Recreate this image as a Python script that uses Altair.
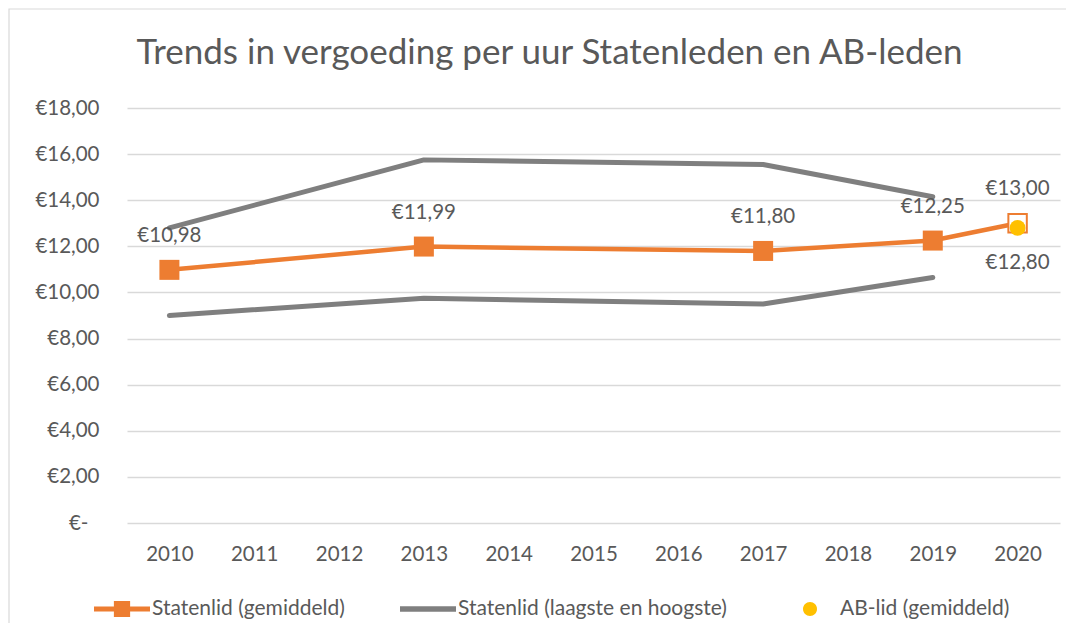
import altair as alt
import pandas as pd

# ---- data ----
years_all = ["2010", "2011", "2012", "2013", "2014", "2015", "2016", "2017", "2018", "2019", "2020"]

avg_years = ["2010", "2013", "2017", "2019", "2020"]
avg_values = [10.98, 11.99, 11.80, 12.25, 13.00]

range_years = ["2010", "2013", "2017", "2019"]
low_values = [9.00, 9.75, 9.50, 10.65]
high_values = [12.80, 15.75, 15.55, 14.15]

ab_years = ["2020"]
ab_values = [12.80]

series_names = ["Statenlid (gemiddeld)", "Statenlid (laagste en hoogste)", "AB-lid (gemiddeld)"]
series_colors = ["#ED7D31", "#7F7F7F", "#FFC000"]
y_ticks = [0, 2, 4, 6, 8, 10, 12, 14, 16, 18]

ORANGE, GRAY, YELLOW = series_colors
TXT = "#595959"
FONT = "Lato"
FS = 20.5

avg_df = pd.DataFrame({"year": avg_years, "v": avg_values})
solid_df = avg_df[avg_df["year"] != "2020"]
hollow_df = avg_df[avg_df["year"] == "2020"]
range_df = pd.DataFrame({
    "year": range_years * 2,
    "v": low_values + high_values,
    "which": ["laagste"] * len(range_years) + ["hoogste"] * len(range_years),
})
ab_df = pd.DataFrame({"year": ab_years, "v": ab_values})
legend_df = pd.DataFrame({"series": series_names, "year": ["2010"] * 3, "v": [-100] * 3})
border_df = pd.DataFrame({"k": [0]})

euro = "'€' + replace(format(datum.v, '.2f'), '.', ',')"

x_enc = alt.X(
    "year:O",
    scale=alt.Scale(type="point", domain=years_all, padding=0.5),
    axis=alt.Axis(
        title=None, labelAngle=0, ticks=False, domain=False, grid=False,
        labelFontSize=FS, labelColor=TXT, labelFont=FONT, labelPadding=21,
    ),
)
y_enc = alt.Y(
    "v:Q",
    scale=alt.Scale(domain=[0, 18], nice=False, zero=True),
    axis=alt.Axis(
        title=None, values=y_ticks, ticks=False, tickSize=0, domain=False,
        gridColor="#D9D9D9", gridWidth=1.3,
        labelFontSize=FS, labelColor=TXT, labelFont=FONT,
        labelAlign="right", labelBaseline="middle",
        labelPadding={"condition": {"test": "datum.value === 0", "value": 39}, "value": 28},
        labelExpr="datum.value === 0 ? '€-' : '€' + replace(format(datum.value, '.2f'), '.', ',')",
    ),
)

border = alt.Chart(border_df).mark_rect(
    fill=None, stroke="#D9D9D9", strokeWidth=1.2
).encode(
    x=alt.value(-118), x2=alt.value(1100), y=alt.value(-99), y2=alt.value(700)
)

gray_lines = alt.Chart(range_df).mark_line(
    color=GRAY, strokeWidth=5, strokeCap="round", strokeJoin="round"
).encode(x=x_enc, y=y_enc, detail="which:N")

orange_line = alt.Chart(avg_df).mark_line(
    color=ORANGE, strokeWidth=4.5, strokeJoin="round"
).encode(x=x_enc, y=y_enc)

orange_squares = alt.Chart(solid_df).mark_point(
    shape="square", filled=True, color=ORANGE, size=400, opacity=1
).encode(x=x_enc, y=y_enc)

orange_hollow = alt.Chart(hollow_df).mark_point(
    shape="square", filled=False, fill="white", fillOpacity=1, stroke=ORANGE,
    strokeWidth=2, size=340, opacity=1
).encode(x=x_enc, y=y_enc)

ab_point = alt.Chart(ab_df).mark_point(
    shape="circle", filled=True, color=YELLOW, size=250, opacity=1
).encode(x=x_enc, y=y_enc)

avg_labels = alt.Chart(avg_df).transform_calculate(lab=euro).mark_text(
    font=FONT, fontSize=FS, color=TXT, dy=-34, baseline="middle"
).encode(x=x_enc, y=y_enc, text="lab:N")

ab_labels = alt.Chart(ab_df).transform_calculate(lab=euro).mark_text(
    font=FONT, fontSize=FS, color=TXT, dy=35, baseline="middle"
).encode(x=x_enc, y=y_enc, text="lab:N")

leg = alt.Legend(
    title=None, orient="none", direction="horizontal", legendX=-33, legendY=473,
    symbolSize=3136, symbolStrokeWidth=0, labelFont=FONT, labelFontSize=21,
    labelColor=TXT, labelOffset=2, columnPadding=55, padding=0, labelLimit=500,
)
shape_paths = [
    "M-1,-0.09H1V0.09H-1Z M-0.29,-0.29H0.29V0.29H-0.29Z",
    "M-1,-0.1H1V0.1H-1Z",
    "M0.25,0 A0.25,0.25 0 1,1 -0.25,0 A0.25,0.25 0 1,1 0.25,0 Z",
]
legend_layer = alt.Chart(legend_df).mark_point(
    filled=True, opacity=1, clip=True, size=10
).encode(
    x=x_enc, y=y_enc,
    color=alt.Color("series:N", scale=alt.Scale(domain=series_names, range=series_colors), legend=leg),
    shape=alt.Shape("series:N", scale=alt.Scale(domain=series_names, range=shape_paths), legend=leg),
)

chart = alt.layer(
    border, gray_lines, orange_line, orange_squares, orange_hollow, ab_point,
    avg_labels, ab_labels, legend_layer,
).properties(
    width=933, height=415,
    title=alt.TitleParams(
        "Trends in vergoeding per uur Statenleden en AB-leden",
        font=FONT, fontSize=35, fontWeight="normal", color=TXT,
        anchor="middle", frame="group", dx=-44, baseline="alphabetic", offset=-91,
    ),
    autosize=alt.AutoSizeParams(type="none"),
    padding={"left": 119, "top": 100, "right": 6, "bottom": 100},
).configure(font=FONT, background="white").configure_view(stroke=None)

chart.save("out.html", embed_options={"renderer": "svg", "actions": False})
